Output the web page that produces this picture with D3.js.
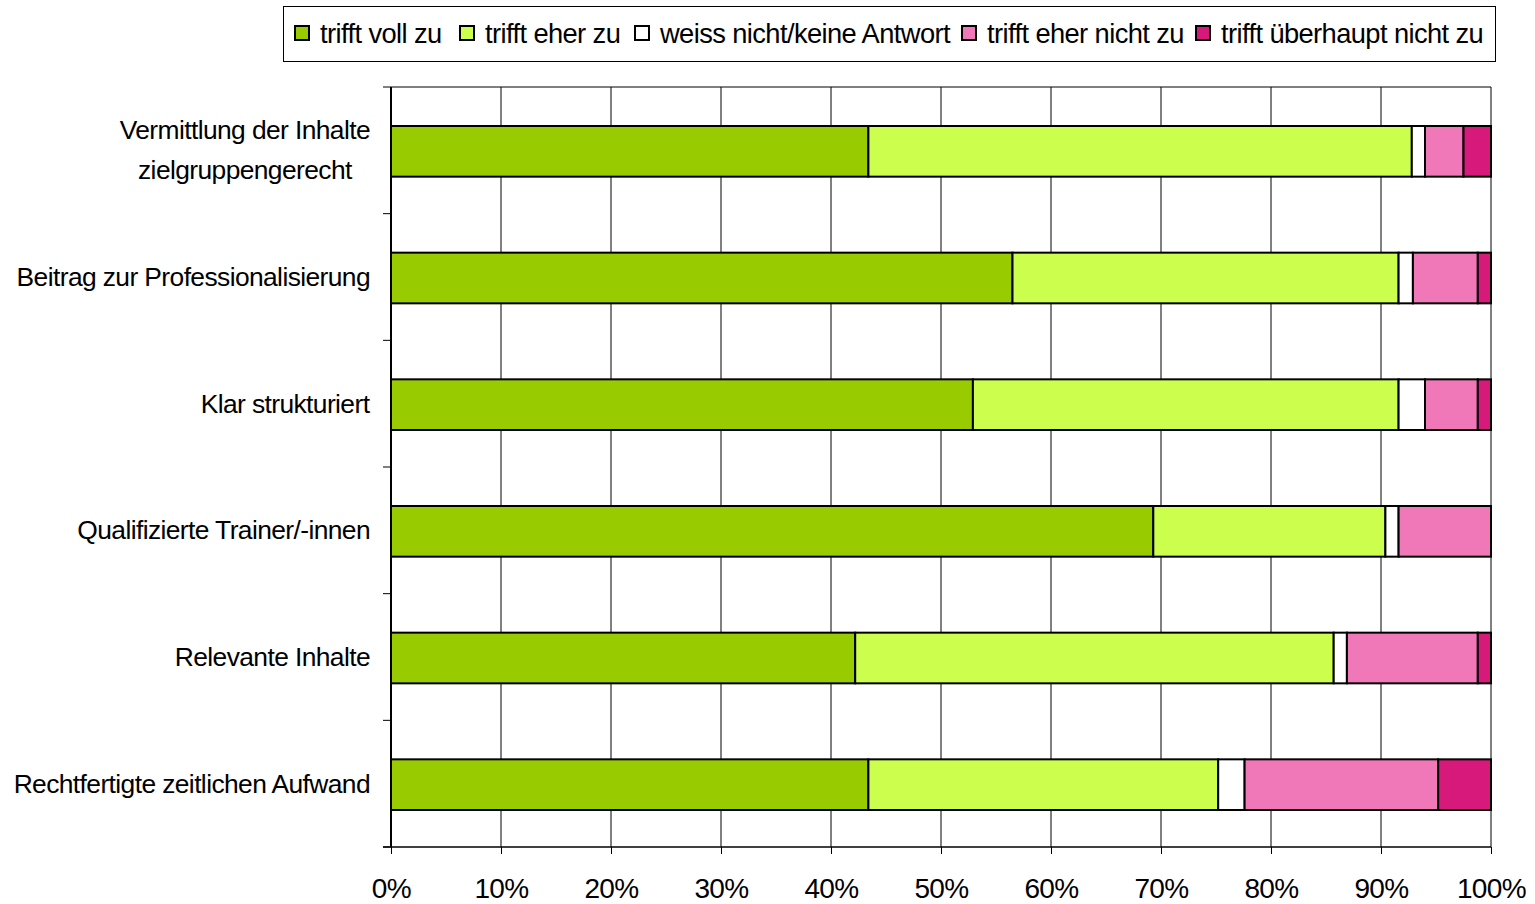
<!DOCTYPE html>
<html><head><meta charset="utf-8">
<script src="https://cdn.jsdelivr.net/npm/d3@7"></script>
<style>body{margin:0;background:#fff}svg{display:block}text{font-family:"Liberation Sans",Arial,sans-serif;fill:#000}</style>
</head><body><svg id="c" width="1535" height="904"></svg>
<script>
const categories = [
  ["Vermittlung der Inhalte","zielgruppengerecht"],
  ["Beitrag zur Professionalisierung"],
  ["Klar strukturiert"],
  ["Qualifizierte Trainer/-innen"],
  ["Relevante Inhalte"],
  ["Rechtfertigte zeitlichen Aufwand"]
];
const seriesNames = ["trifft voll zu","trifft eher zu","weiss nicht/keine Antwort","trifft eher nicht zu","trifft überhaupt nicht zu"];
const seriesColors = ["#99cc00","#ccff4d","#ffffff","#f078b8","#d6197a"];
const vollZu      = [43.4, 56.5, 52.9, 69.3, 42.2, 43.4];
const eherZu      = [49.4, 35.1, 38.7, 21.1, 43.5, 31.8];
const weissNicht  = [1.2, 1.3, 2.4, 1.2, 1.2, 2.4];
const eherNicht   = [3.5, 5.9, 4.8, 8.4, 11.9, 17.6];
const ueberhaupt  = [2.5, 1.2, 1.2, 0.0, 1.2, 4.8];
const tickValues = [0,10,20,30,40,50,60,70,80,90,100];

(function(){
const svg = d3.select("#c");
const pL = 391, pR = 1491, pT = 87, pB = 847;
const x = d3.scaleLinear().domain([0,100]).range([pL,pR]);
const y = d3.scaleBand().domain(d3.range(categories.length)).range([pT,pB]).paddingInner(0.6).paddingOuter(0.3);
const yb = d3.scaleBand().domain(d3.range(categories.length)).range([pT,pB]);

// gridlines
svg.append("g").selectAll("line").data(tickValues).join("line")
  .attr("x1",d=>x(d)).attr("x2",d=>x(d)).attr("y1",pT).attr("y2",pB)
  .attr("stroke","#000").attr("stroke-width",1);
svg.append("line").attr("x1",pL).attr("x2",pR).attr("y1",pT).attr("y2",pT).attr("stroke","#000");

// bars
const series = [vollZu, eherZu, weissNicht, eherNicht, ueberhaupt];
const rows = categories.map((c,i)=>{const o={i}; series.forEach((s,k)=>o["s"+k]=s[i]); return o;});
const stack = d3.stack().keys(series.map((s,k)=>"s"+k))(rows);
stack.forEach((layer,k)=>{
  svg.append("g").selectAll("rect").data(layer.filter(d=>d[1]-d[0]>0)).join("rect")
    .attr("x",d=>x(d[0])).attr("width",d=>x(d[1])-x(d[0]))
    .attr("y",d=>y(d.data.i)+1).attr("height",y.bandwidth())
    .attr("fill",seriesColors[k]).attr("stroke","#000").attr("stroke-width",2);
});

// x axis
const xAxis = svg.append("g").attr("transform",`translate(0,${pB})`)
  .call(d3.axisBottom(x).tickValues(tickValues).tickFormat(d=>d+"%").tickSize(7).tickPadding(24));
xAxis.select(".domain").attr("stroke","#000").attr("stroke-width",1.5).attr("d",`M${pL-8},0H${pR}`);
xAxis.selectAll("text").attr("font-size",28).attr("font-family","Liberation Sans, Arial, sans-serif").attr("letter-spacing","-0.6");

// y axis
const yAxis = svg.append("g").attr("transform",`translate(${pL},0)`);
yAxis.append("line").attr("x1",0).attr("x2",0).attr("y1",pT).attr("y2",pB).attr("stroke","#000").attr("stroke-width",2);
yAxis.selectAll("line.t").data(d3.range(categories.length+1)).join("line").attr("class","t")
  .attr("x1",-8).attr("x2",0).attr("y1",d=>pT+d*yb.step()).attr("y2",d=>pT+d*yb.step()).attr("stroke","#000");
categories.forEach((lines,i)=>{
  const cy = yb(i)+yb.bandwidth()/2;
  const lh = 40;
  const t = svg.append("text").attr("font-size",26.4).attr("letter-spacing","-0.6").attr("text-anchor","middle");
  lines.forEach((l,j)=>{
    t.append("tspan").attr("x",0).attr("y",cy + (j-(lines.length-1)/2)*lh + 9).text(l);
  });
  const w = t.node().getBBox().width;
  t.attr("transform",`translate(${370 - w/2},0)`);
});

// legend
const lg = svg.append("g");
lg.append("rect").attr("x",283.5).attr("y",6.5).attr("width",1212).attr("height",55).attr("fill","#fff").attr("stroke","#000");
const legendTextX = [320, 485, 660, 987, 1221];
seriesNames.forEach((n,k)=>{
  const tx = legendTextX[k];
  lg.append("rect").attr("x",tx-25).attr("y",26).attr("width",14).attr("height",14).attr("fill",seriesColors[k]).attr("stroke","#000").attr("stroke-width",2);
  lg.append("text").attr("x",tx).attr("y",43).attr("font-size",27.3).attr("letter-spacing","-0.6").text(n);
});
})();
</script></body></html>
